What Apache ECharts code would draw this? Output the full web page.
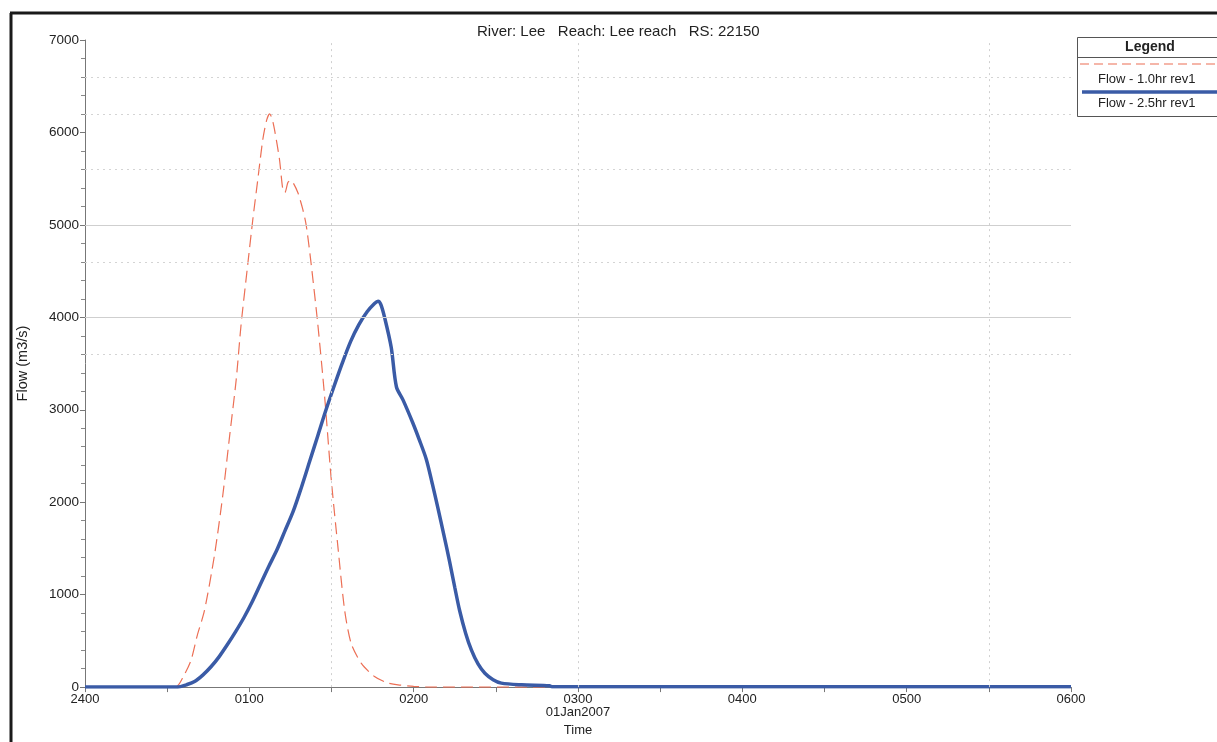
<!DOCTYPE html>
<html>
<head>
<meta charset="utf-8">
<script src="https://cdn.jsdelivr.net/npm/echarts@6/dist/echarts.min.js"></script>
<style>
  html, body { margin: 0; padding: 0; background: #fff; }
  #chart { width: 1217px; height: 742px; }
</style>
</head>
<body>
<div id="chart"></div>
<script>
// minutes after 2400 (01Jan2007) and flow in m3/s
var redTime = [0, 33, 36, 38.7, 41, 43.6, 47.3, 50.3, 52.8, 55.2, 57, 59.4, 61.3, 63.1, 64.9, 66.3, 67.4, 68.3, 69.2, 71, 72.2, 73, 74.1, 75, 75.9, 77.7, 79.5, 80.8, 82.6, 85, 87.5, 89.9, 92.4, 94.8, 97.2, 100.9, 105.7, 110, 114.3, 120, 126, 360];
var redFlow = [0, 0, 120, 290, 560, 826, 1432, 2073, 2715, 3324, 3925, 4567, 5066, 5493, 5920, 6130, 6200, 6150, 6030, 5710, 5390, 5350, 5460, 5480, 5460, 5350, 5170, 4990, 4570, 3925, 3140, 2250, 1500, 830, 470, 256, 114, 50, 25, 8, 0, 0];

var blueTime = [0, 33.9, 37, 40, 43, 46, 49, 52, 55, 58, 61, 64, 67, 70, 73, 76, 79, 82, 85, 88, 91, 94, 97, 100, 103, 105.7, 107, 108, 109.4, 111.8, 113.7, 116.1, 119.7, 122, 124.6, 126.8, 128.9, 131, 133.1, 135, 136.8, 139, 141.1, 143.5, 146, 149, 152, 159.4, 169.6, 170.5, 360];
var blueFlow = [0, 0, 25, 60, 130, 220, 330, 460, 600, 750, 920, 1110, 1300, 1480, 1690, 1900, 2160, 2440, 2720, 3000, 3260, 3510, 3740, 3920, 4060, 4150, 4175, 4140, 3997, 3676, 3249, 3107, 2857, 2680, 2465, 2200, 1931, 1650, 1360, 1080, 826, 580, 399, 250, 150, 80, 43, 25, 15, 4, 3];

var hourLabels = ['2400', '0100', '0200', '0300', '0400', '0500', '0600'];
var dateLabel = '01Jan2007';
var seriesNames = ['Flow - 1.0hr rev1', 'Flow - 2.5hr rev1'];
var titleText = 'River: Lee   Reach: Lee reach   RS: 22150';

var solidGridY = [4000, 5000];
var dottedGridY = [3600, 4600, 5600, 6200, 6600];
var dottedGridX = [90, 180, 330];

function pairs(xs, ys) {
  var out = [];
  for (var i = 0; i < xs.length; i++) out.push([xs[i], ys[i]]);
  return out;
}

var FONT = '"Liberation Sans", Arial, sans-serif';
var RED = '#ec6f55';
var BLUE = '#3a5ba6';
var myChart = echarts.init(document.getElementById('chart'));

var gridLines = [];
solidGridY.forEach(function (v) {
  gridLines.push({ yAxis: v, lineStyle: { type: 'solid', color: '#cfcfcf', width: 1 } });
});
dottedGridY.forEach(function (v) {
  gridLines.push({ yAxis: v, lineStyle: { type: [2, 4], color: '#d4d4d4', width: 1 } });
});
dottedGridX.forEach(function (v) {
  gridLines.push({ xAxis: v, lineStyle: { type: [2, 4], color: '#d0d0d0', width: 1 } });
});

var option = {
  animation: false,
  backgroundColor: '#fff',
  textStyle: { fontFamily: FONT },
  grid: { left: 85, right: 146, top: 40, bottom: 48, containLabel: false },
  xAxis: {
    type: 'value',
    min: 0,
    max: 360,
    interval: 30,
    name: 'Time',
    nameLocation: 'middle',
    nameGap: 34,
    nameTextStyle: { fontFamily: FONT, fontSize: 13, color: '#222' },
    axisLine: { lineStyle: { color: '#777', width: 1 } },
    axisTick: { length: 5, lineStyle: { color: '#777' } },
    axisLabel: {
      margin: 6,
      fontFamily: FONT,
      fontSize: 13,
      color: '#222',
      lineHeight: 13,
      showMaxLabel: true,
      showMinLabel: true,
      formatter: function (v) {
        if (v % 60 !== 0) return '';
        var s = hourLabels[v / 60];
        if (v === 180) s += '\n' + dateLabel;
        return s;
      }
    },
    splitLine: { show: false }
  },
  yAxis: {
    type: 'value',
    min: 0,
    max: 7000,
    interval: 1000,
    name: 'Flow (m3/s)',
    nameLocation: 'middle',
    nameGap: 55,
    nameRotate: 90,
    nameTextStyle: { fontFamily: FONT, fontSize: 14.5, color: '#222' },
    axisLine: { show: true, lineStyle: { color: '#777', width: 1 } },
    axisTick: { show: true, length: 5, lineStyle: { color: '#777' } },
    minorTick: { show: true, splitNumber: 5, length: 4, lineStyle: { color: '#888' } },
    axisLabel: {
      margin: 6,
      fontFamily: FONT,
      fontSize: 13.5,
      color: '#222',
      formatter: function (v) { return String(v); }
    },
    splitLine: { show: false }
  },
  title: {
    text: titleText,
    left: 472,
    top: 19,
    textStyle: { fontFamily: FONT, fontSize: 15, fontWeight: 'normal', color: '#222' }
  },
  series: [
    {
      name: 'grid',
      type: 'line',
      data: [],
      silent: true,
      z: 1,
      markLine: {
        silent: true,
        symbol: 'none',
        label: { show: false },
        animation: false,
        data: gridLines
      }
    },
    {
      name: seriesNames[0],
      type: 'line',
      data: pairs(redTime, redFlow),
      showSymbol: false,
      smooth: 0.25,
      z: 3,
      lineStyle: { color: RED, width: 1.2, type: [12, 6] }
    },
    {
      name: seriesNames[1],
      type: 'line',
      data: pairs(blueTime, blueFlow),
      showSymbol: false,
      smooth: 0.3,
      z: 4,
      lineStyle: { color: BLUE, width: 3.5 }
    }
  ],
  graphic: [
    // outer frame
    { type: 'line', shape: { x1: 11, y1: 13, x2: 11, y2: 742 }, style: { stroke: '#1a1a1a', lineWidth: 3 } },
    { type: 'line', shape: { x1: 10, y1: 13, x2: 1217, y2: 13 }, style: { stroke: '#1a1a1a', lineWidth: 3 } },
    // legend box
    { type: 'rect', shape: { x: 1077.5, y: 37.5, width: 150, height: 79 }, style: { fill: '#fff', stroke: '#555', lineWidth: 1 }, z: 10 },
    { type: 'line', shape: { x1: 1077, y1: 57.5, x2: 1217, y2: 57.5 }, style: { stroke: '#555', lineWidth: 1 }, z: 11 },
    { type: 'text', x: 1150, y: 47.5, style: { text: 'Legend', font: 'bold 14px ' + FONT, fill: '#222', textAlign: 'center', textVerticalAlign: 'middle' }, z: 11 },
    { type: 'line', shape: { x1: 1080, y1: 64, x2: 1217, y2: 64 }, style: { stroke: RED, lineWidth: 1.2, lineDash: [9, 5] }, z: 11 },
    { type: 'text', x: 1098, y: 79, style: { text: seriesNames[0], font: '13px ' + FONT, fill: '#222', textVerticalAlign: 'middle' }, z: 11 },
    { type: 'line', shape: { x1: 1082, y1: 92, x2: 1217, y2: 92 }, style: { stroke: BLUE, lineWidth: 3.5 }, z: 11 },
    { type: 'text', x: 1098, y: 103, style: { text: seriesNames[1], font: '13px ' + FONT, fill: '#222', textVerticalAlign: 'middle' }, z: 11 }
  ]
};

myChart.setOption(option);
window.onresize = function () { myChart.resize(); };
</script>
</body>
</html>
